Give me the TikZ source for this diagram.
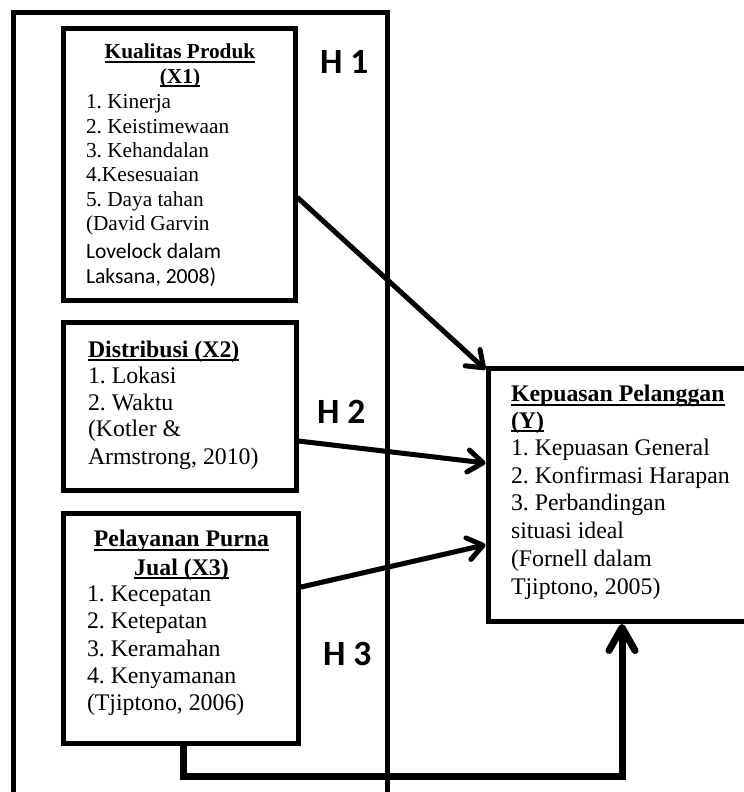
\documentclass[tikz,border=0pt]{standalone}
\usepackage{fontspec}
\setmainfont{Liberation Serif}
\newfontfamily\calfont{Carlito}
\usetikzlibrary{arrows.meta}
\frenchspacing
\newcommand\fA{\fontsize{21.3bp}{25bp}\selectfont}
\newcommand\fB{\fontsize{23.8bp}{27bp}\selectfont}
\newcommand\fC{\calfont\fontsize{21.6bp}{25bp}\selectfont}
\newcommand\fH{\calfont\bfseries\fontsize{35.5bp}{40bp}\selectfont}
\newcommand\ulin[1]{\setbox0\hbox{#1}\rlap{\vrule height -1.8bp depth 4bp width \wd0}\box0}
\tikzset{
  box/.style={draw, line width=5bp, rectangle, inner sep=0pt},
  tl/.style={anchor=base west, inner sep=0pt, outer sep=0pt},
  tc/.style={anchor=base, inner sep=0pt, outer sep=0pt},
  hl/.style={anchor=base west, inner sep=0pt, outer sep=0pt, font=\fH},
  conn/.style={line width=5bp, line cap=round,
    -{Straight Barb[length=15bp,width=22bp,round]},
    preaction={draw=gray!60, transform canvas={shift={(1.5bp,-2.2bp)}}}},
  conn4/.style={line width=7bp, line join=miter,
    -{Straight Barb[length=23bp,width=26bp,round]}}
}
\begin{document}
\frenchspacing
\begin{tikzpicture}[x=1bp,y=-1bp]
\useasboundingbox (0,0) rectangle (744,792);
% outer frame (bottom runs off the page)
\node[box, minimum width=373.5bp, minimum height=800bp] (frame) at (200.75,412.5) {};
% boxes
\node[box, minimum width=231.5bp, minimum height=271.5bp] (x1) at (179.75,164.75) {};
\node[box, minimum width=232bp, minimum height=168bp] (x2) at (180,406) {};
\node[box, minimum width=234.5bp, minimum height=230.5bp] (x3) at (181.25,628.25) {};
\node[box, minimum width=264bp, minimum height=253.5bp] (yb) at (620,494.75) {};
% X1 text
\node[tc,font=\fA\bfseries] (t1a) at (180,59) {\ulin{Kualitas Produk}};
\node[tc,font=\fA\bfseries] (t1b) at (180,83) {\ulin{(X1)}};
\node[tl,font=\fA] (t1c) at (86,108.3) {1. Kinerja};
\node[tl,font=\fA] (t1d) at (86,133.3) {2. Keistimewaan};
\node[tl,font=\fA] (t1e) at (86,157.7) {3. Kehandalan};
\node[tl,font=\fA] (t1f) at (86,181.7) {4.Kesesuaian};
\node[tl,font=\fA] (t1g) at (86,206.3) {5. Daya tahan};
\node[tl,font=\fA] (t1h) at (86,230.5) {(David Garvin};
\node[tl,font=\fC] (t1i) at (86,258.5) {Lovelock dalam};
\node[tl,font=\fC] (t1j) at (86,283) {Laksana, 2008)};
% X2 text
\node[tl,font=\fB\bfseries] (t2a) at (88,357.3) {\ulin{Distribusi (X2)}};
\node[tl,font=\fB] (t2b) at (88,383.3) {1. Lokasi};
\node[tl,font=\fB] (t2c) at (88,410) {2. Waktu};
\node[tl,font=\fB] (t2d) at (88,436.7) {(Kotler \&};
\node[tl,font=\fB] (t2e) at (88,464) {Armstrong, 2010)};
% X3 text
\node[tc,font=\fB\bfseries] (t3a) at (181.5,546.7) {\ulin{Pelayanan Purna}};
\node[tc,font=\fB\bfseries] (t3b) at (181.5,575) {\ulin{Jual (X3)}};
\node[tl,font=\fB] (t3c) at (87,601.7) {1. Kecepatan};
\node[tl,font=\fB] (t3d) at (87,628.3) {2. Ketepatan};
\node[tl,font=\fB] (t3e) at (87,656) {3. Keramahan};
\node[tl,font=\fB] (t3f) at (87,683.3) {4. Kenyamanan};
\node[tl,font=\fB] (t3g) at (87,710.7) {(Tjiptono, 2006)};
% Y text
\node[tl,font=\fB\bfseries] (tya) at (511,401.7) {\ulin{Kepuasan Pelanggan}};
\node[tl,font=\fB\bfseries] (tyb) at (511,428.3) {\ulin{(Y)}};
\node[tl,font=\fB] (tyc) at (511,455.7) {1. Kepuasan General};
\node[tl,font=\fB] (tyd) at (511,483.3) {2. Konfirmasi Harapan};
\node[tl,font=\fB] (tye) at (511,510.7) {3. Perbandingan};
\node[tl,font=\fB] (tyf) at (511,538.3) {situasi ideal};
\node[tl,font=\fB] (tyg) at (511,566) {(Fornell dalam};
\node[tl,font=\fB] (tyh) at (511,594) {Tjiptono, 2005)};
% hypothesis labels
\node[hl] (h1) at (320,74) {H 1};
\node[hl] (h2) at (317,423) {H 2};
\node[hl] (h3) at (323,665) {H 3};
% connectors
\draw[conn] ([yshift=-33.25bp]x1.east) -- ([yshift=-4bp]yb.north west);
\draw[conn] ([yshift=-35bp]x2.east) -- ([yshift=31.75bp]yb.west);
\draw[conn] ([yshift=41.25bp]x3.east) -- ([yshift=-50bp]yb.west);
\coordinate (a4s) at ([xshift=1.75bp]x3.south);
\coordinate (a4e) at ([xshift=2bp]yb.south);
\coordinate (a4b) at (0,776);
\draw[conn4] (a4s) -- (a4s |- a4b) -- (a4e |- a4b) -- (a4e);
\end{tikzpicture}
\end{document}
